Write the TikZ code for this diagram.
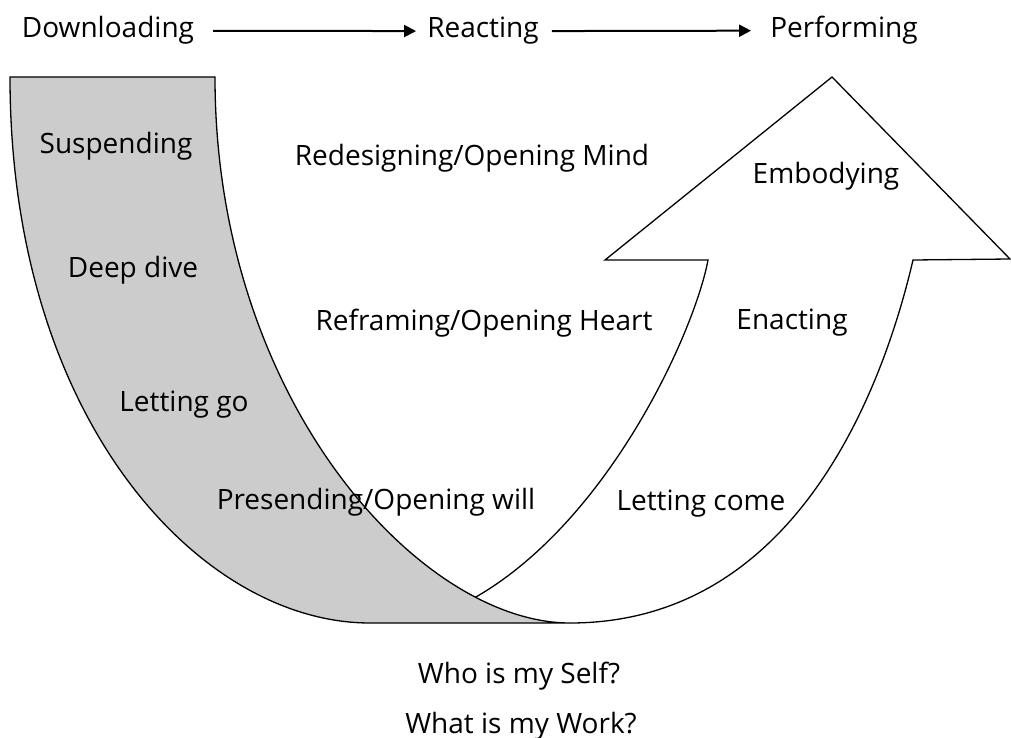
\documentclass[tikz,border=0pt]{standalone}
\usepackage{fontspec}
\setmainfont{Open Sans}
\usetikzlibrary{arrows.meta}
\definecolor{bandgray}{RGB}{204,204,204}
\begin{document}
\begin{tikzpicture}[x=1pt,y=-1pt,
  lbl/.style={font=\fontsize{28}{32}\selectfont, inner sep=0pt, anchor=base},
  outline/.style={line width=1.3pt, line join=miter},
  toparrow/.style={line width=2pt, -{Triangle[length=12pt,width=12pt]}}]
\useasboundingbox (0,0) rectangle (1011,738);
% grey descending band
\draw[outline, fill=bandgray] (10,77) -- (215,77)
  .. controls (215,400) and (420,623) .. (570,623) -- (370,623)
  .. controls (200,623) and (10,420) .. (10,77) -- cycle;
% junction of the white arrow with the band
\path (215,77) .. controls (215,400) and (420,623) .. coordinate[pos=0.8] (J) (570,623);
% white rising arrow
\draw[outline] (J) .. controls (610,520) and (695,330) .. (708,260)
  -- (605,260) -- (832,77) -- (1010,259) -- (913,260)
  .. controls (885,380) and (800,623) .. (570,623);
% top row
\node[lbl] (dl) at (108,38) {Downloading};
\node[lbl] (re) at (483,38) {Reacting};
\node[lbl] (pf) at (844,38) {Performing};
\draw[toparrow, shorten <=19pt, shorten >=11pt] (dl.east) -- (re.west);
\draw[toparrow, shorten <=13pt, shorten >=19pt] (re.east) -- (pf.west);
% band labels
\node[lbl] (su) at (116,154) {Suspending};
\node[lbl] (dd) at (133,277) {Deep dive};
\node[lbl] (lg) at (184,411) {Letting go};
\node[lbl] (ps) at (376,509) {Presending/Opening will};
% middle labels
\node[lbl] (rd) at (472,166) {Redesigning/Opening Mind};
\node[lbl] (rf) at (484,330) {Reframing/Opening Heart};
% arrow labels
\node[lbl] (em) at (826,183) {Embodying};
\node[lbl] (en) at (792,329) {Enacting};
\node[lbl] (lc) at (701,510) {Letting come};
% questions
\node[lbl] (q1) at (519,683) {Who is my Self?};
\node[lbl] (q2) at (521,733) {What is my Work?};
\end{tikzpicture}
\end{document}
